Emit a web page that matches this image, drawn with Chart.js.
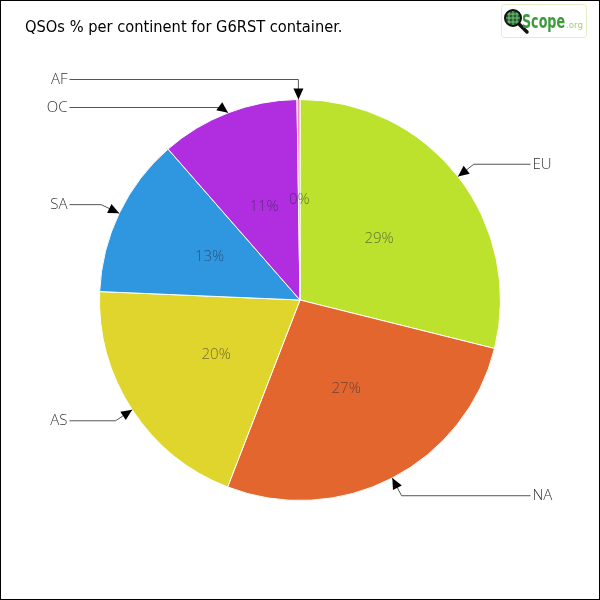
<!DOCTYPE html>
<html>
<head>
<meta charset="utf-8">
<title>QSOs % per continent</title>
<script src="https://cdn.jsdelivr.net/npm/chart.js@4.4.1/dist/chart.umd.min.js"></script>
<style>
  html, body { margin: 0; padding: 0; background: #fff; }
  #wrap { width: 600px; height: 600px; position: relative; }
</style>
</head>
<body>
<div id="wrap"><canvas id="myChart" width="600" height="600"></canvas></div>
<script>
// continents, clockwise from 12 o'clock
const continents = ['EU', 'NA', 'AS', 'SA', 'OC', 'AF'];
// share of QSOs (%)
const shares = [28.9, 27.0, 19.8, 12.9, 11.2, 0.24];
const sliceColors = ['#bde22e', '#e2662e', '#e0d52c', '#2f97df', '#b02ee0', '#f08cbc'];

const titleText = 'QSOs % per continent for G6RST container.';

const labelFont = '300 15px "Open Sans", sans-serif';

const decorPlugin = {
  id: 'decor',
  afterDraw(chart) {
    const ctx = chart.ctx;
    const meta = chart.getDatasetMeta(0);
    const total = shares.reduce((a, b) => a + b, 0);

    // percentages inside slices
    ctx.save();
    ctx.font = labelFont;
    ctx.fillStyle = 'rgba(40, 40, 60, 0.6)';
    ctx.textAlign = 'center';
    ctx.textBaseline = 'middle';
    meta.data.forEach((arc, i) => {
      const p = arc.getProps(['x', 'y', 'startAngle', 'endAngle', 'outerRadius'], true);
      const mid = (p.startAngle + p.endAngle) / 2;
      const r = p.outerRadius * 0.5;
      const pct = Math.round(shares[i] / total * 100);
      ctx.fillText(pct + '%', p.x + Math.cos(mid) * r, p.y + Math.sin(mid) * r);
    });
    ctx.restore();

    // callouts
    const items = meta.data.map((arc, i) => {
      const p = arc.getProps(['x', 'y', 'startAngle', 'endAngle', 'outerRadius'], true);
      const mid = (p.startAngle + p.endAngle) / 2;
      const dx = Math.cos(mid), dy = Math.sin(mid);
      const tip = { x: p.x + dx * p.outerRadius, y: p.y + dy * p.outerRadius };
      const elbow = { x: tip.x + dx * 20, y: tip.y + dy * 20 };
      return { i, cx: p.x, R: p.outerRadius, tip, elbow, side: dx >= 0 ? 1 : -1, ly: elbow.y };
    });
    [1, -1].forEach(side => {
      const list = items.filter(it => it.side === side).sort((a, b) => a.ly - b.ly);
      for (let k = 1; k < list.length; k++) {
        if (list[k].ly - list[k - 1].ly < 28) list[k].ly = list[k - 1].ly + 28;
      }
    });

    ctx.save();
    items.forEach(it => {
      const lx = it.cx + it.side * (it.R + 30);
      const ex = it.elbow.x;
      ctx.strokeStyle = '#555';
      ctx.lineWidth = 1;
      ctx.beginPath();
      ctx.moveTo(lx, it.ly);
      ctx.lineTo(ex, it.ly);
      ctx.lineTo(it.tip.x, it.tip.y);
      ctx.stroke();

      // arrow head
      const ang = Math.atan2(it.tip.y - it.ly, it.tip.x - ex);
      const len = 11, hw = 5;
      ctx.fillStyle = '#000';
      ctx.beginPath();
      ctx.moveTo(it.tip.x, it.tip.y);
      ctx.lineTo(it.tip.x - Math.cos(ang) * len - Math.sin(ang) * hw,
                 it.tip.y - Math.sin(ang) * len + Math.cos(ang) * hw);
      ctx.lineTo(it.tip.x - Math.cos(ang) * len + Math.sin(ang) * hw,
                 it.tip.y - Math.sin(ang) * len - Math.cos(ang) * hw);
      ctx.closePath();
      ctx.fill();

      ctx.font = labelFont;
      ctx.fillStyle = '#333';
      ctx.textBaseline = 'middle';
      ctx.textAlign = it.side > 0 ? 'left' : 'right';
      ctx.fillText(continents[it.i], lx + it.side * 2, it.ly);
    });
    ctx.restore();

    // title
    ctx.save();
    ctx.font = '16.3px "DejaVu Sans Condensed", sans-serif';
    ctx.fillStyle = '#000';
    ctx.textBaseline = 'middle';
    ctx.textAlign = 'left';
    ctx.fillText(titleText, 25, 28);
    ctx.restore();

    // logo
    ctx.save();
    ctx.strokeStyle = '#e2edc6';
    ctx.lineWidth = 1;
    ctx.beginPath();
    ctx.roundRect(501.5, 4.5, 85, 33, 3);
    ctx.stroke();
    ctx.fillStyle = '#1d5e2c';
    ctx.beginPath();
    ctx.arc(513, 18, 8, 0, Math.PI * 2);
    ctx.fill();
    ctx.strokeStyle = '#7fbf7f';
    ctx.lineWidth = 1;
    ctx.beginPath();
    for (let g = -4; g <= 4; g += 4) {
      ctx.moveTo(513 + g, 11); ctx.lineTo(513 + g, 25);
      ctx.moveTo(506, 18 + g); ctx.lineTo(520, 18 + g);
    }
    ctx.stroke();
    ctx.strokeStyle = '#111';
    ctx.lineWidth = 2;
    ctx.beginPath();
    ctx.arc(513, 18, 8, 0, Math.PI * 2);
    ctx.stroke();
    ctx.lineWidth = 3.5;
    ctx.lineCap = 'round';
    ctx.beginPath();
    ctx.moveTo(519, 24);
    ctx.lineTo(527, 32);
    ctx.stroke();
    ctx.font = 'bold 20px "DejaVu Sans Condensed", sans-serif';
    ctx.fillStyle = '#3b9a3b';
    ctx.textBaseline = 'alphabetic';
    ctx.textAlign = 'left';
    ctx.fillText('Scope', 522, 28, 43);
    ctx.font = '9px "DejaVu Sans", sans-serif';
    ctx.fillStyle = '#a6cc7a';
    ctx.fillText('.org', 566, 28, 17);
    ctx.restore();

    // frame
    ctx.save();
    ctx.strokeStyle = '#000';
    ctx.lineWidth = 1;
    ctx.strokeRect(0.5, 0.5, 599, 599);
    ctx.restore();
  }
};

function createChart() {
  const ctx = document.getElementById('myChart').getContext('2d');
  new Chart(ctx, {
    type: 'pie',
    data: {
      labels: continents,
      datasets: [{
        data: shares,
        backgroundColor: sliceColors,
        borderColor: '#ffffff',
        borderWidth: 1
      }]
    },
    options: {
      responsive: false,
      animation: false,
      layout: { padding: { top: 99, bottom: 99, left: 99, right: 99 } },
      plugins: {
        legend: { display: false },
        tooltip: { enabled: false },
        title: { display: false }
      }
    },
    plugins: [decorPlugin]
  });
}

createChart();
</script>
</body>
</html>
